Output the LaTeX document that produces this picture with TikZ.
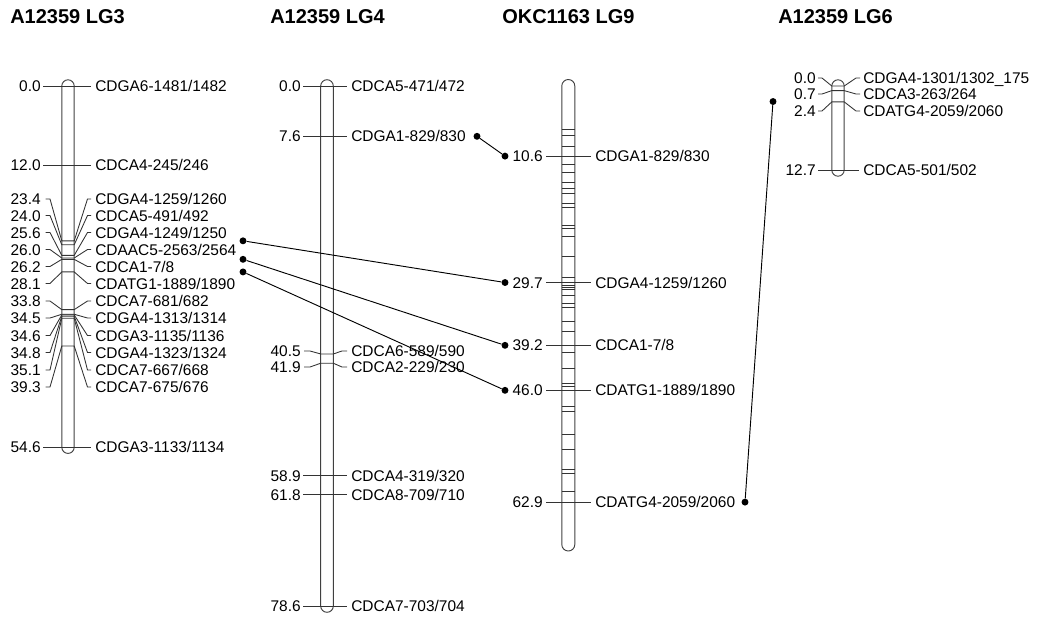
\documentclass[tikz,border=0pt]{standalone}
\usepackage{fontspec}
\setmainfont{Liberation Sans}
\usetikzlibrary{positioning}

\begin{document}
\begin{tikzpicture}[
  x=0.75pt, y=-0.75pt,
  chrom/.style={draw=black!75,line width=0.7pt},
  tick/.style={draw=black!80,line width=0.65pt},
  cmlabel/.style={anchor=east,inner sep=0pt,font=\fontsize{11.6}{13}\selectfont,text height=8.3pt,text depth=0pt},
  marker/.style={cmlabel,anchor=west},
  lgtitle/.style={anchor=base west,inner sep=0pt,font=\fontsize{15}{18}\selectfont\bfseries},
  dot/.style={circle,fill=black,inner sep=0pt,minimum size=5.2pt},
  link/.style={draw=black,line width=0.7pt}
]
  \useasboundingbox (0,0) rectangle (1037,619);

  % titles
  \node[lgtitle] (t3) at (10,23.5) {A12359 LG3};
  \node[lgtitle] (t4) at (270,23.5) {A12359 LG4};
  \node[lgtitle] (t9) at (502,23.5) {OKC1163 LG9};
  \node[lgtitle] (t6) at (778,23.5) {A12359 LG6};

  % A12359 LG3
  \draw[chrom] (61.8,86) -- (61.8,447.2) arc[start angle=180,end angle=0,radius=6.2]
    -- (74.2,86) arc[start angle=0,end angle=-180,radius=6.2] -- cycle;
  \foreach \c/\nm [count=\i] in {0.0/{CDGA6-1481/1482},12.0/{CDCA4-245/246},54.6/{CDGA3-1133/1134}} {
    \pgfmathsetmacro\ty{86+6.616*\c}
    \node[cmlabel] (a3-\i) at (41,\ty) {\c};
    \node[marker] (b3-\i) at (95,\ty) {\nm};
    \draw[tick] (43,\ty) -- (91,\ty);
  }
  \foreach \c/\ly/\nm [count=\i] in {
      23.4/199/{CDGA4-1259/1260}, 24.0/215.5/{CDCA5-491/492},
      25.6/232.5/{CDGA4-1249/1250}, 26.0/249.5/{CDAAC5-2563/2564},
      26.2/266.5/{CDCA1-7/8}, 28.1/283.5/{CDATG1-1889/1890},
      33.8/301/{CDCA7-681/682}, 34.5/318/{CDGA4-1313/1314},
      34.6/335.5/{CDGA3-1135/1136}, 34.8/352.5/{CDGA4-1323/1324},
      35.1/370/{CDCA7-667/668}, 39.3/387/{CDCA7-675/676}} {
    \pgfmathsetmacro\ty{86+6.616*\c}
    \node[cmlabel] (c3-\i) at (41,\ly) {\c};
    \node[marker] (d3-\i) at (95,\ly) {\nm};
    \draw[tick] (45.5,\ly) -- (50,\ly) -- (61.8,\ty) -- (74.2,\ty) -- (87.5,\ly) -- (91,\ly);
  }

  % A12359 LG4
  \draw[chrom] (320.7,86) -- (320.7,606) arc[start angle=180,end angle=0,radius=6.3]
    -- (333.3,86) arc[start angle=0,end angle=-180,radius=6.3] -- cycle;
  \foreach \c/\nm [count=\i] in {0.0/{CDCA5-471/472},7.6/{CDGA1-829/830},58.9/{CDCA4-319/320},
      61.8/{CDCA8-709/710},78.6/{CDCA7-703/704}} {
    \pgfmathsetmacro\ty{86+6.616*\c}
    \node[cmlabel] (a4-\i) at (301,\ty) {\c};
    \node[marker] (b4-\i) at (351,\ty) {\nm};
    \draw[tick] (303,\ty) -- (347,\ty);
  }
  \foreach \c/\ly/\nm [count=\i] in {40.5/351/{CDCA6-589/590},41.9/367/{CDCA2-229/230}} {
    \pgfmathsetmacro\ty{86+6.616*\c}
    \node[cmlabel] (c4-\i) at (301,\ly) {\c};
    \node[marker] (d4-\i) at (351,\ly) {\nm};
    \draw[tick] (304,\ly) -- (310,\ly) -- (320.7,\ty) -- (333.3,\ty) -- (342,\ly) -- (347,\ly);
  }

  % OKC1163 LG9
  \draw[chrom] (561.8,86) -- (561.8,544.5) arc[start angle=180,end angle=0,radius=6.5]
    -- (574.8,86) arc[start angle=0,end angle=-180,radius=6.5] -- cycle;
  \foreach \c in {6.6,7.5,9.2,11.9,13.0,14.6,15.5,16.3,17.7,18.4,21.0,21.5,22.8,25.8,28.9,
      30.1,30.4,30.8,31.6,32.8,33.4,35.6,37.1,40.2,42.7,44.9,45.4,48.5,49.2,52.7,55.0,
      58.0,58.5,61.3}
    \draw[tick] (561.8,{86+6.616*\c}) -- (574.8,{86+6.616*\c});
  \foreach \c/\nm [count=\i] in {10.6/{CDGA1-829/830},29.7/{CDGA4-1259/1260},39.2/{CDCA1-7/8},
      46.0/{CDATG1-1889/1890},62.9/{CDATG4-2059/2060}} {
    \pgfmathsetmacro\ty{86+6.616*\c}
    \node[cmlabel] (a9-\i) at (543,\ty) {\c};
    \node[marker] (b9-\i) at (595,\ty) {\nm};
    \draw[tick] (546,\ty) -- (591,\ty);
  }

  % A12359 LG6
  \draw[chrom] (831.8,86) -- (831.8,170) arc[start angle=180,end angle=0,radius=6.2]
    -- (844.2,86) arc[start angle=0,end angle=-180,radius=6.2] -- cycle;
  \node[cmlabel] (a6-1) at (816,170) {12.7};
  \node[marker] (b6-1) at (863,170) {CDCA5-501/502};
  \draw[tick] (818,170) -- (859,170);
  \foreach \c/\ly/\nm [count=\i] in {0.0/78/{CDGA4-1301/1302\_175},0.7/94/{CDCA3-263/264},
      2.4/111/{CDATG4-2059/2060}} {
    \pgfmathsetmacro\ty{86+6.616*\c}
    \node[cmlabel] (c6-\i) at (816,\ly) {\c};
    \node[marker] (d6-\i) at (863,\ly) {\nm};
    \draw[tick] (818,\ly) -- (822,\ly) -- (831.8,\ty) -- (844.2,\ty) -- (856,\ly) -- (860,\ly);
  }

  % links between maps
  \node[dot] (p4a) at (477,136.3) {};
  \node[dot] (p9a) at (505,156.1) {};
  \node[dot] (p3a) at (243,240.8) {};
  \node[dot] (p3b) at (243,259.3) {};
  \node[dot] (p3c) at (243,271.9) {};
  \node[dot] (p9b) at (505,282.5) {};
  \node[dot] (p9c) at (505,345.3) {};
  \node[dot] (p9d) at (505,390.3) {};
  \node[dot] (p9e) at (745,502.1) {};
  \node[dot] (p6a) at (773,101.5) {};

  \draw[link] (p4a) -- (p9a);
  \draw[link] (p3a) -- (p9b);
  \draw[link] (p3b) -- (p9c);
  \draw[link] (p3c) -- (p9d);
  \draw[link] (p9e) -- (p6a);
\end{tikzpicture}
\end{document}
